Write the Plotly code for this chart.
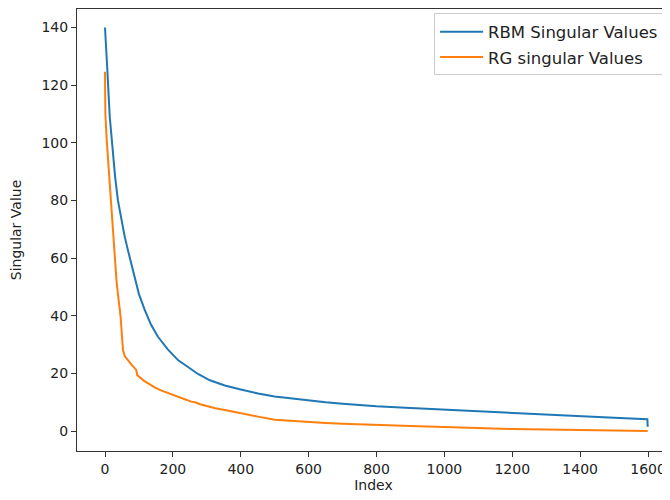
import plotly.graph_objects as go

# Data
rbm_index = [0, 3, 7, 14, 23, 30, 38, 48, 58, 68, 78, 87, 100, 117, 135, 156, 185, 215,
             245, 274, 309, 353, 400, 451, 500, 569, 650, 700, 800, 900, 1000, 1100,
             1200, 1300, 1400, 1500, 1598, 1599]
rbm_values = [140, 132, 125, 109, 96.3, 88, 80, 73, 67.5, 62.5, 58, 54, 47.5, 42, 37,
              32.7, 28.3, 24.6, 22, 19.8, 17.6, 15.8, 14.4, 13.0, 12.0, 11.0, 10.0, 9.5,
              8.6, 8.0, 7.4, 6.9, 6.3, 5.7, 5.1, 4.6, 4.1, 1.5]

rg_index = [0, 1, 5, 9, 13, 17, 24, 27, 30, 34, 38, 42, 46, 50, 53, 58, 64, 68, 75, 80,
            87, 92, 95, 105, 115, 127, 145, 165, 186, 210, 235, 254, 265, 280, 300, 325,
            353, 400, 451, 500, 569, 650, 700, 800, 900, 1000, 1100, 1200, 1300, 1400,
            1500, 1599]
rg_values = [124.6, 110.2, 101, 94, 87, 80.1, 68.6, 62.8, 56.5, 52, 47.7, 44, 39.6, 33,
             28.1, 26, 25, 24.6, 23.5, 22.8, 21.7, 21.2, 19.4, 18.3, 17.4, 16.5, 15.2,
             14.1, 13.1, 12.0, 11.0, 10.2, 10.0, 9.3, 8.6, 7.9, 7.3, 6.1, 5.0, 3.9, 3.3,
             2.8, 2.5, 2.0, 1.7, 1.4, 1.0, 0.7, 0.5, 0.3, 0.15, 0.05]

x_ticks = [0, 200, 400, 600, 800, 1000, 1200, 1400, 1600]
y_ticks = [0, 20, 40, 60, 80, 100, 120, 140]

font = "DejaVu Sans"

fig = go.Figure()
fig.add_trace(go.Scatter(x=rbm_index, y=rbm_values, mode="lines",
                         name="RBM Singular Values", legendgroup="a",
                         line=dict(color="#1f77b4", width=2)))
fig.add_trace(go.Scatter(x=rg_index, y=rg_values, mode="lines",
                         name="RG singular Values", legendgroup="b",
                         line=dict(color="#ff7f0e", width=2)))

# page body has an 8px margin, so the figure is sized/offset to compensate
fig.update_layout(
    width=662, height=492,
    margin=dict(l=69, r=0, t=1, b=49),
    paper_bgcolor="white", plot_bgcolor="white",
    font=dict(family=font, size=14, color="#222222"),
    showlegend=True,
    legend=dict(x=0.99, y=0.99, xanchor="right", yanchor="top",
                bgcolor="rgba(255,255,255,0.8)", bordercolor="#cccccc", borderwidth=1,
                font=dict(family=font, size=16.5, color="#222222"),
                tracegroupgap=1, itemwidth=43),
    xaxis=dict(range=[-82.5, 1664.7], tickvals=x_ticks,
               ticktext=[str(v) for v in x_ticks], automargin=False,
               showgrid=False, zeroline=False,
               showline=True, linecolor="#333333", linewidth=1, mirror=True,
               ticks="outside", ticklen=5, tickwidth=1, tickcolor="#333333",
               title=dict(text="Index", font=dict(size=14), standoff=4)),
    yaxis=dict(range=[-6.93, 146.4], tickvals=y_ticks,
               ticktext=[str(v) for v in y_ticks], automargin=False,
               showgrid=False, zeroline=False,
               showline=True, linecolor="#333333", linewidth=1, mirror=False,
               ticks="outside", ticklen=5, tickwidth=1, tickcolor="#333333",
               title=dict(text="Singular Value", font=dict(size=14), standoff=16)),
)

fig.write_html("out.html")
